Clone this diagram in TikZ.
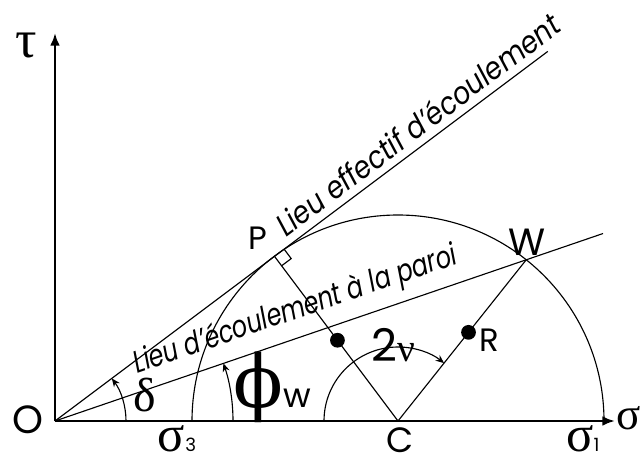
\documentclass[tikz,border=0pt]{standalone}
\usepackage{graphicx}
\usepackage{fontspec}
\setmainfont{Poppins}
\newfontfamily\greekfont{Liberation Serif}
\newfontfamily\phifont{DejaVu Serif}
\usetikzlibrary{arrows.meta,calc}

\begin{document}
\begin{tikzpicture}[x=0.025cm,y=0.025cm,every node/.style={inner sep=0pt},
    axis/.style={line width=1.8pt,-{Latex[length=9pt,width=7pt]}},
    thin line/.style={line width=0.8pt},
    angle arrow/.style={line width=0.8pt,-{Stealth[length=6pt,width=5pt]}},
    dot/.style={circle,fill,minimum size=10.5pt},
    flow/.style={font=\fontsize{22}{24}\selectfont\itshape,sloped},
    greek/.style={font=\greekfont\fontsize{#1}{#1}\selectfont}]
  \useasboundingbox (-55,-40) rectangle (587,421);
  \coordinate (O) at (0,0);
  \coordinate (C) at (343,0);
  \coordinate (P) at ($(C)+(126.87:206)$);
  \coordinate (W) at ($(C)+(51.5:206)$);
  \coordinate (E) at (36.87:616);
  \coordinate (F) at ($(O)!1.163!(W)$);
  \coordinate (T) at (0,388);
  \coordinate (S) at (560,0);
  % axes
  \draw[axis] (O) -- (T);
  \draw[axis] (O) -- (S);
  % Mohr circle
  \draw[thin line] ($(C)+(206,0)$) arc[start angle=0,end angle=180,radius=206];
  % yield loci
  \draw[thin line] (O) -- (E)
    node[flow,pos=0.76,above=5pt] {\resizebox{8.65cm}{\height}{Lieu effectif d'écoulement}};
  \draw[thin line] (O) -- (F)
    node[flow,pos=0.455,above=7pt] {\resizebox{8.5cm}{\height}{Lieu d'écoulement à la paroi}};
  \draw[thin line] (P) -- (C) -- (W);
  \draw[thin line,shift={(P)},rotate=-53.13] (12,0) -- (12,12) -- (0,12);
  \node[dot] (M) at ($(C)!0.49!(P)$) {};
  \node[dot] (Rd) at ($(C)!0.55!(W)$) {};
  % angles
  \draw[angle arrow] (71,0) arc[start angle=0,end angle=36.87,radius=71];
  \draw[angle arrow] (178,0) arc[start angle=0,end angle=18.9,radius=178];
  \draw[angle arrow] ($(C)+(-74,0)$) arc[start angle=180,end angle=51.5,radius=74];
  % labels
  \node[font=\fontsize{28}{30}\selectfont] (Olab) at (-27,1) {O};
  \node[greek=38] (tau) at (-29,376) {τ};
  \node[greek=32] (sig) at (574,3) {σ};
  \node[greek=36] (sig3) at (122,-18) {σ{\normalfont\fontsize{13}{14}\selectfont 3}};
  \node[greek=36] (sig1) at (528,-18) {σ{\normalfont\fontsize{13}{14}\selectfont 1}};
  \node[font=\fontsize{25}{27}\selectfont] (Clab) at (345,-19) {C};
  \node[font=\fontsize{23}{25}\selectfont] (Plab) at (203,183) {P};
  \node[font=\fontsize{27}{29}\selectfont] (Wlab) at (472,179) {W};
  \node[font=\fontsize{23}{25}\selectfont] (Rlab) at (434,81) {R};
  \node[font=\fontsize{32}{34}\selectfont] (nu) at (338,76) {2{\greekfont\fontsize{28}{28}\selectfont ν}};
  \node[greek=34] (delta) at (90,26) {δ};
  \node[font=\phifont\fontsize{52}{54}\selectfont] (phiw) at (217,34) {ϕ{\normalfont\fontsize{24}{26}\selectfont w}};
\end{tikzpicture}
\end{document}
